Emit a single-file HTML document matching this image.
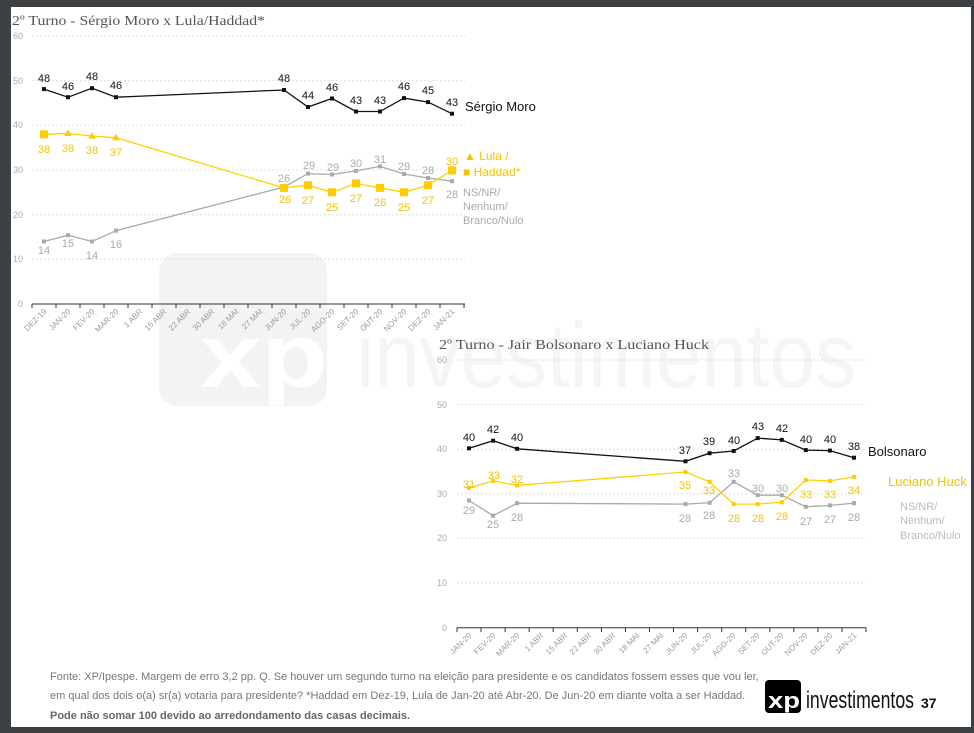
<!DOCTYPE html>
<html><head><meta charset="utf-8"><style>
html,body{margin:0;padding:0;background:#3d4144;}
body{width:974px;height:733px;overflow:hidden;position:relative;font-family:"Liberation Sans",sans-serif;}
#page{position:absolute;left:11px;top:7px;width:960px;height:720px;background:#fff;}
svg{position:absolute;left:0;top:0;}
</style></head><body>
<div id="page"></div>
<svg width="974" height="733" viewBox="0 0 974 733" font-family="Liberation Sans, sans-serif">
<!-- watermark -->
<rect x="159" y="253" width="168" height="153" rx="18" fill="#f3f3f3"/>
<text x="200" y="387" font-size="90" font-weight="bold" fill="#fff" textLength="128" lengthAdjust="spacingAndGlyphs">xp</text>
<text x="356" y="387" font-size="92" fill="#f5f5f5" textLength="500" lengthAdjust="spacingAndGlyphs">investimentos</text>

<!-- TOP CHART -->
<text x="12" y="25" font-size="14" fill="#555" font-family="Liberation Serif, serif" textLength="253" lengthAdjust="spacingAndGlyphs">2º Turno - Sérgio Moro x Lula/Haddad*</text>
<g stroke="#ddd" stroke-dasharray="2,2" stroke-width="1">
<line x1="32" y1="36" x2="465" y2="36"/><line x1="32" y1="80.7" x2="465" y2="80.7"/><line x1="32" y1="125.3" x2="465" y2="125.3"/><line x1="32" y1="170" x2="465" y2="170"/><line x1="32" y1="214.7" x2="465" y2="214.7"/><line x1="32" y1="259.3" x2="465" y2="259.3"/>
</g>
<g font-size="9" fill="#aaa" text-anchor="end">
<text x="23" y="39">60</text><text x="23" y="84">50</text><text x="23" y="128">40</text><text x="23" y="173">30</text><text x="23" y="218">20</text><text x="23" y="262">10</text><text x="23" y="307">0</text>
</g>
<line x1="32" y1="304" x2="465" y2="304" stroke="#333" stroke-width="1"/>
<g stroke="#333"><line x1="32" y1="304" x2="32" y2="308"/><line x1="56" y1="304" x2="56" y2="308"/><line x1="80" y1="304" x2="80" y2="308"/><line x1="104" y1="304" x2="104" y2="308"/><line x1="128" y1="304" x2="128" y2="308"/><line x1="152" y1="304" x2="152" y2="308"/><line x1="176" y1="304" x2="176" y2="308"/><line x1="200" y1="304" x2="200" y2="308"/><line x1="224" y1="304" x2="224" y2="308"/><line x1="248" y1="304" x2="248" y2="308"/><line x1="272" y1="304" x2="272" y2="308"/><line x1="296" y1="304" x2="296" y2="308"/><line x1="320" y1="304" x2="320" y2="308"/><line x1="344" y1="304" x2="344" y2="308"/><line x1="368" y1="304" x2="368" y2="308"/><line x1="392" y1="304" x2="392" y2="308"/><line x1="416" y1="304" x2="416" y2="308"/><line x1="440" y1="304" x2="440" y2="308"/><line x1="464" y1="304" x2="464" y2="308"/></g>
<g font-size="8" fill="#999" text-anchor="end">
<text transform="translate(47,312) rotate(-45)">DEZ-19</text><text transform="translate(71,312) rotate(-45)">JAN-20</text><text transform="translate(95,312) rotate(-45)">FEV-20</text><text transform="translate(119,312) rotate(-45)">MAR-20</text><text transform="translate(143,312) rotate(-45)">1 ABR</text><text transform="translate(167,312) rotate(-45)">15 ABR</text><text transform="translate(191,312) rotate(-45)">22 ABR</text><text transform="translate(215,312) rotate(-45)">30 ABR</text><text transform="translate(239,312) rotate(-45)">18 MAI</text><text transform="translate(263,312) rotate(-45)">27 MAI</text><text transform="translate(287,312) rotate(-45)">JUN-20</text><text transform="translate(311,312) rotate(-45)">JUL-20</text><text transform="translate(335,312) rotate(-45)">AGO-20</text><text transform="translate(359,312) rotate(-45)">SET-20</text><text transform="translate(383,312) rotate(-45)">OUT-20</text><text transform="translate(407,312) rotate(-45)">NOV-20</text><text transform="translate(431,312) rotate(-45)">DEZ-20</text><text transform="translate(455,312) rotate(-45)">JAN-21</text>
</g>
<polyline fill="none" stroke="#aaa" stroke-width="1.3" points="44,241.5 68,235.2 92,241.5 116,230.7 284,187 308,173.6 332,174.5 356,170.9 380,166.4 404,174 428,178 452,181.2"/>
<g fill="#aaa"><rect x="42" y="239.5" width="4" height="4"/><rect x="66" y="233.2" width="4" height="4"/><rect x="90" y="239.5" width="4" height="4"/><rect x="114" y="228.7" width="4" height="4"/><rect x="282" y="185" width="4" height="4"/><rect x="306" y="171.6" width="4" height="4"/><rect x="330" y="172.5" width="4" height="4"/><rect x="354" y="168.9" width="4" height="4"/><rect x="378" y="164.4" width="4" height="4"/><rect x="402" y="172" width="4" height="4"/><rect x="426" y="176" width="4" height="4"/><rect x="450" y="179.2" width="4" height="4"/></g>
<polyline fill="none" stroke="#ffd000" stroke-width="1.3" points="44,134.3 68,133.4 92,136 116,137.8 284,187.9 308,185.2 332,192.3 356,183.4 380,187.9 404,192.3 428,185.2 452,170.4"/>
<g fill="#ffcc00"><rect x="40" y="130.3" width="8" height="8"/><polygon points="68,129.4 72,136 64,136"/><polygon points="92,132 96,138.6 88,138.6"/><polygon points="116,133.8 120,140.4 112,140.4"/><rect x="280" y="183.9" width="8" height="8"/><rect x="304" y="181.2" width="8" height="8"/><rect x="328" y="188.3" width="8" height="8"/><rect x="352" y="179.4" width="8" height="8"/><rect x="376" y="183.9" width="8" height="8"/><rect x="400" y="188.3" width="8" height="8"/><rect x="424" y="181.2" width="8" height="8"/><rect x="448" y="166.4" width="8" height="8"/></g>
<polyline fill="none" stroke="#111" stroke-width="1.3" points="44,89.1 68,97.2 92,88.2 116,97.2 284,90 308,107 332,98.5 356,111.5 380,111.5 404,98.1 428,102.1 452,113.7"/>
<g fill="#111"><rect x="42" y="87.1" width="4" height="4"/><rect x="66" y="95.2" width="4" height="4"/><rect x="90" y="86.2" width="4" height="4"/><rect x="114" y="95.2" width="4" height="4"/><rect x="282" y="88" width="4" height="4"/><rect x="306" y="105" width="4" height="4"/><rect x="330" y="96.5" width="4" height="4"/><rect x="354" y="109.5" width="4" height="4"/><rect x="378" y="109.5" width="4" height="4"/><rect x="402" y="96.1" width="4" height="4"/><rect x="426" y="100.1" width="4" height="4"/><rect x="450" y="111.7" width="4" height="4"/></g>
<g font-size="11" text-anchor="middle" fill="#111">
<text x="44" y="82">48</text><text x="68" y="90">46</text><text x="92" y="80">48</text><text x="116" y="89">46</text><text x="284" y="82">48</text><text x="308" y="99">44</text><text x="332" y="91">46</text><text x="356" y="104">43</text><text x="380" y="104">43</text><text x="404" y="90">46</text><text x="428" y="94">45</text><text x="452" y="106">43</text>
</g>
<g font-size="11" text-anchor="middle" fill="#f2c400">
<text x="44" y="153">38</text><text x="68" y="152">38</text><text x="92" y="154">38</text><text x="116" y="156">37</text><text x="285" y="203">26</text><text x="308" y="204">27</text><text x="332" y="211">25</text><text x="356" y="202">27</text><text x="380" y="206">26</text><text x="404" y="211">25</text><text x="428" y="204">27</text><text x="452" y="165">30</text>
</g>
<g font-size="11" text-anchor="middle" fill="#aaa">
<text x="44" y="254">14</text><text x="68" y="247">15</text><text x="92" y="259">14</text><text x="116" y="248">16</text><text x="284" y="182">26</text><text x="309" y="169">29</text><text x="333" y="171">29</text><text x="356" y="167">30</text><text x="380" y="163">31</text><text x="404" y="170">29</text><text x="428" y="174">28</text><text x="452" y="198">28</text>
</g>
<text x="465" y="111" font-size="13" fill="#111">Sérgio Moro</text>
<text x="464" y="160" font-size="12" fill="#f2c400">▲ Lula /</text>
<text x="463" y="176" font-size="12" fill="#f2c400">■ Haddad*</text>
<g font-size="11" fill="#aaa"><text x="463" y="196">NS/NR/</text><text x="463" y="210">Nenhum/</text><text x="463" y="224">Branco/Nulo</text></g>

<!-- BOTTOM CHART -->
<text x="439" y="349" font-size="14" fill="#555" font-family="Liberation Serif, serif" textLength="270" lengthAdjust="spacingAndGlyphs">2º Turno - Jair Bolsonaro x Luciano Huck</text>
<g stroke="#ddd" stroke-dasharray="2,2" stroke-width="1">
<line x1="457" y1="360" x2="866" y2="360"/><line x1="457" y1="404.6" x2="866" y2="404.6"/><line x1="457" y1="449.2" x2="866" y2="449.2"/><line x1="457" y1="493.8" x2="866" y2="493.8"/><line x1="457" y1="538.4" x2="866" y2="538.4"/><line x1="457" y1="583" x2="866" y2="583"/>
</g>
<g font-size="9" fill="#aaa" text-anchor="end">
<text x="447" y="363">60</text><text x="447" y="408">50</text><text x="447" y="452">40</text><text x="447" y="497">30</text><text x="447" y="541">20</text><text x="447" y="586">10</text><text x="447" y="631">0</text>
</g>
<line x1="457" y1="627.7" x2="866" y2="627.7" stroke="#333"/>
<g stroke="#333"><line x1="457" y1="627.7" x2="457" y2="632"/><line x1="481" y1="627.7" x2="481" y2="632"/><line x1="505.1" y1="627.7" x2="505.1" y2="632"/><line x1="529.2" y1="627.7" x2="529.2" y2="632"/><line x1="553.2" y1="627.7" x2="553.2" y2="632"/><line x1="577.3" y1="627.7" x2="577.3" y2="632"/><line x1="601.4" y1="627.7" x2="601.4" y2="632"/><line x1="625.4" y1="627.7" x2="625.4" y2="632"/><line x1="649.5" y1="627.7" x2="649.5" y2="632"/><line x1="673.5" y1="627.7" x2="673.5" y2="632"/><line x1="697.6" y1="627.7" x2="697.6" y2="632"/><line x1="721.7" y1="627.7" x2="721.7" y2="632"/><line x1="745.7" y1="627.7" x2="745.7" y2="632"/><line x1="769.8" y1="627.7" x2="769.8" y2="632"/><line x1="793.8" y1="627.7" x2="793.8" y2="632"/><line x1="817.9" y1="627.7" x2="817.9" y2="632"/><line x1="842" y1="627.7" x2="842" y2="632"/><line x1="866" y1="627.7" x2="866" y2="632"/></g>
<g font-size="8" fill="#999" text-anchor="end">
<text transform="translate(472,636) rotate(-45)">JAN-20</text><text transform="translate(496,636) rotate(-45)">FEV-20</text><text transform="translate(520,636) rotate(-45)">MAR-20</text><text transform="translate(544,636) rotate(-45)">1 ABR</text><text transform="translate(568,636) rotate(-45)">15 ABR</text><text transform="translate(592,636) rotate(-45)">22 ABR</text><text transform="translate(616,636) rotate(-45)">30 ABR</text><text transform="translate(640,636) rotate(-45)">18 MAI</text><text transform="translate(664,636) rotate(-45)">27 MAI</text><text transform="translate(688,636) rotate(-45)">JUN-20</text><text transform="translate(712,636) rotate(-45)">JUL-20</text><text transform="translate(736,636) rotate(-45)">AGO-20</text><text transform="translate(760,636) rotate(-45)">SET-20</text><text transform="translate(784,636) rotate(-45)">OUT-20</text><text transform="translate(808,636) rotate(-45)">NOV-20</text><text transform="translate(833,636) rotate(-45)">DEZ-20</text><text transform="translate(857,636) rotate(-45)">JAN-21</text>
</g>
<polyline fill="none" stroke="#aaa" stroke-width="1.3" points="469,500.5 493.1,515.7 517.1,503.2 685.5,504.1 709.6,502.8 733.7,481.8 757.7,495.2 781.8,495.2 805.8,506.8 829.9,505.4 854,503.2"/>
<g fill="#aaa"><rect x="467" y="498.5" width="4" height="4"/><rect x="491.1" y="513.7" width="4" height="4"/><rect x="515.1" y="501.2" width="4" height="4"/><rect x="683.5" y="502.1" width="4" height="4"/><rect x="707.6" y="500.8" width="4" height="4"/><rect x="731.7" y="479.8" width="4" height="4"/><rect x="755.7" y="493.2" width="4" height="4"/><rect x="779.8" y="493.2" width="4" height="4"/><rect x="803.8" y="504.8" width="4" height="4"/><rect x="827.9" y="503.4" width="4" height="4"/><rect x="852" y="501.2" width="4" height="4"/></g>
<polyline fill="none" stroke="#ffd000" stroke-width="1.3" points="469,488 493.1,480.9 517.1,485.4 685.5,472 709.6,481.8 733.7,504.1 757.7,504.1 781.8,502.3 805.8,480 829.9,480.9 854,476.9"/>
<g fill="#ffcc00"><rect x="467" y="486" width="4" height="4"/><rect x="491.1" y="478.9" width="4" height="4"/><rect x="515.1" y="483.4" width="4" height="4"/><rect x="683.5" y="470" width="4" height="4"/><rect x="707.6" y="479.8" width="4" height="4"/><rect x="731.7" y="502.1" width="4" height="4"/><rect x="755.7" y="502.1" width="4" height="4"/><rect x="779.8" y="500.3" width="4" height="4"/><rect x="803.8" y="478" width="4" height="4"/><rect x="827.9" y="478.9" width="4" height="4"/><rect x="852" y="474.9" width="4" height="4"/></g>
<polyline fill="none" stroke="#111" stroke-width="1.3" points="469,448.3 493.1,440.7 517.1,448.8 685.5,461.3 709.6,453.2 733.7,451 757.7,438.1 781.8,439.9 805.8,450.1 829.9,450.6 854,457.7"/>
<g fill="#111"><rect x="467" y="446.3" width="4" height="4"/><rect x="491.1" y="438.7" width="4" height="4"/><rect x="515.1" y="446.8" width="4" height="4"/><rect x="683.5" y="459.3" width="4" height="4"/><rect x="707.6" y="451.2" width="4" height="4"/><rect x="731.7" y="449" width="4" height="4"/><rect x="755.7" y="436.1" width="4" height="4"/><rect x="779.8" y="437.9" width="4" height="4"/><rect x="803.8" y="448.1" width="4" height="4"/><rect x="827.9" y="448.6" width="4" height="4"/><rect x="852" y="455.7" width="4" height="4"/></g>
<g font-size="11" text-anchor="middle" fill="#111">
<text x="469" y="441">40</text><text x="493" y="433">42</text><text x="517" y="441">40</text><text x="685" y="454">37</text><text x="709" y="445">39</text><text x="734" y="444">40</text><text x="758" y="430">43</text><text x="782" y="432">42</text><text x="806" y="443">40</text><text x="830" y="443">40</text><text x="854" y="450">38</text>
</g>
<g font-size="11" text-anchor="middle" fill="#f2c400">
<text x="469" y="488">31</text><text x="494" y="479">33</text><text x="517" y="483">32</text><text x="685" y="489">35</text><text x="709" y="494">33</text><text x="734" y="522">28</text><text x="758" y="522">28</text><text x="782" y="520">28</text><text x="806" y="498">33</text><text x="830" y="498">33</text><text x="854" y="494">34</text>
</g>
<g font-size="11" text-anchor="middle" fill="#aaa">
<text x="469" y="514">29</text><text x="493" y="528">25</text><text x="517" y="521">28</text><text x="685" y="522">28</text><text x="709" y="519">28</text><text x="734" y="477">33</text><text x="758" y="492">30</text><text x="782" y="492">30</text><text x="806" y="525">27</text><text x="830" y="523">27</text><text x="854" y="521">28</text>
</g>
<text x="868" y="456" font-size="13" fill="#111">Bolsonaro</text>
<text x="888" y="486" font-size="13" fill="#f2c400">Luciano Huck</text>
<g font-size="11" fill="#bbb"><text x="900" y="510">NS/NR/</text><text x="900" y="524">Nenhum/</text><text x="900" y="539">Branco/Nulo</text></g>

<!-- footer -->
<g font-size="11" fill="#777">
<text x="50" y="680">Fonte: XP/Ipespe. Margem de erro 3,2 pp. Q. Se houver um segundo turno na eleição para presidente e os candidatos fossem esses que vou ler,</text>
<text x="50" y="699">em qual dos dois o(a) sr(a) votaria para presidente? *Haddad em Dez-19, Lula de Jan-20 até Abr-20. De Jun-20 em diante volta a ser Haddad.</text>
<text x="50" y="719" font-weight="bold" fill="#666">Pode não somar 100 devido ao arredondamento das casas decimais.</text>
</g>
<rect x="765" y="680" width="36" height="33" rx="4" fill="#000"/>
<text x="768" y="708" font-size="22" font-weight="bold" fill="#fff" textLength="32" lengthAdjust="spacingAndGlyphs">xp</text>
<text x="806" y="708" font-size="24" fill="#111" textLength="108" lengthAdjust="spacingAndGlyphs">investimentos</text>
<text x="921" y="708" font-size="14" font-weight="bold" fill="#111">37</text>
</svg>
</body></html>
